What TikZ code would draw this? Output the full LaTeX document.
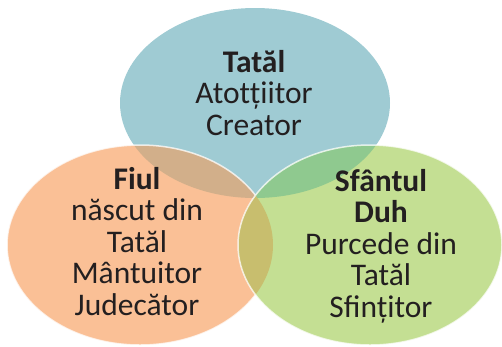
\documentclass[tikz,border=0pt]{standalone}
\usepackage{fontspec}
\setmainfont{Carlito}
\definecolor{cBlue}{HTML}{9FCBD3}
\definecolor{cOrange}{HTML}{FAC096}
\definecolor{cGreen}{HTML}{C4DF93}
\definecolor{cOB}{HTML}{D2AF8A}
\definecolor{cGB}{HTML}{8FC98F}
\definecolor{cOG}{HTML}{C8BE6E}
\definecolor{cText}{HTML}{231F20}
\tikzset{
  rim/.style={draw=white, draw opacity=0.75, line width=1.5pt},
  lbl/.style={align=center, inner sep=0pt, text=cText, anchor=base,
    font=\fontsize{31.5}{31.5}\selectfont},
}
\begin{document}
\begin{tikzpicture}[x=1pt,y=-1pt]
\useasboundingbox (0,0) rectangle (502,346);
% top ellipse
\fill[cBlue] (255,103) ellipse [x radius=135, y radius=95];
% left ellipse
\fill[cOrange] (140,245) ellipse [x radius=133, y radius=100];
\begin{scope}
  \clip (140,245) ellipse [x radius=133, y radius=100];
  \fill[cOB] (255,103) ellipse [x radius=135, y radius=95];
\end{scope}
\draw[rim] (140,245) ellipse [x radius=133, y radius=100];
% right ellipse
\fill[cGreen] (370,245) ellipse [x radius=132, y radius=100];
\begin{scope}
  \clip (370,245) ellipse [x radius=132, y radius=100];
  \fill[cGB] (255,103) ellipse [x radius=135, y radius=95];
  \fill[cOG] (140,245) ellipse [x radius=133, y radius=100];
\end{scope}
\draw[rim] (370,245) ellipse [x radius=132, y radius=100];
% texts (anchor base = baseline of last line)
\node[lbl] (tata) at (254,135) {\textbf{Tatăl}\\Atotțiitor\\Creator};
\node[lbl] (fiul) at (137,315) {\textbf{Fiul}\\născut din\\Tatăl\\Mântuitor\\Judecător};
\node[lbl] (duh) at (381,317) {\textbf{Sfântul}\\\textbf{Duh}\\Purcede din\\Tatăl\\Sfințitor};
\end{tikzpicture}
\end{document}
